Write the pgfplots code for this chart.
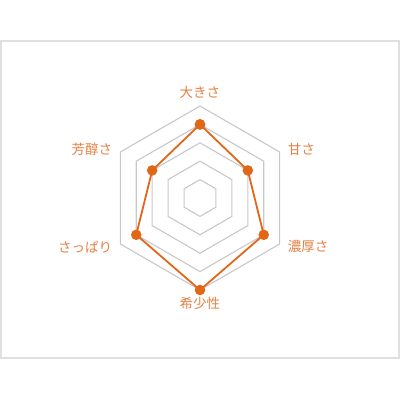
\documentclass[border=0pt]{standalone}
\usepackage{fontspec}
\newfontfamily\cjk{Noto Sans CJK JP}[Scale=1]
\usepackage{pgfplots}
\usepgfplotslibrary{polar}
\pgfplotsset{compat=1.18}
\definecolor{lineor}{RGB}{226,102,24}
\definecolor{labor}{RGB}{228,128,66}
\definecolor{gridg}{RGB}{200,200,200}
\definecolor{frameg}{RGB}{224,224,224}
\begin{document}
\begin{tikzpicture}[x=1pt,y=1pt]
\useasboundingbox (0,0) rectangle (400,400);
\draw[frameg,line width=1.5pt] (1,42) rectangle (399,359);
\begin{polaraxis}[
  at={(200pt,202pt)}, anchor=center,
  scale only axis, width=184pt, height=184pt,
  xmin=0, xmax=360, ymin=0, ymax=5,
  hide axis, clip=false,
]
\foreach \r in {1,2,3,4,5}{
  \addplot[gridg, line width=1.1pt, no marks] coordinates {(90,\r) (30,\r) (330,\r) (270,\r) (210,\r) (150,\r) (90,\r)};
}
\addplot[lineor, line width=1.8pt, mark=*, mark size=4.3pt, mark options={fill=lineor,draw=lineor}] coordinates {
 (90,4) (30,3) (330,4) (270,5) (210,4) (150,3) (90,4)};
\node[labor, font=\cjk\fontsize{13.5}{15}\selectfont] at (axis cs:90,5.72) {大きさ};
\node[labor, font=\cjk\fontsize{13.5}{15}\selectfont, anchor=west] at (axis cs:30,5.3) {甘さ};
\node[labor, font=\cjk\fontsize{13.5}{15}\selectfont, anchor=west] at (axis cs:330,5.3) {濃厚さ};
\node[labor, font=\cjk\fontsize{13.5}{15}\selectfont] at (axis cs:270,5.7) {希少性};
\node[labor, font=\cjk\fontsize{13.5}{15}\selectfont, anchor=east] at (axis cs:210,5.3) {さっぱり};
\node[labor, font=\cjk\fontsize{13.5}{15}\selectfont, anchor=east] at (axis cs:150,5.3) {芳醇さ};
\end{polaraxis}
\end{tikzpicture}
\end{document}
